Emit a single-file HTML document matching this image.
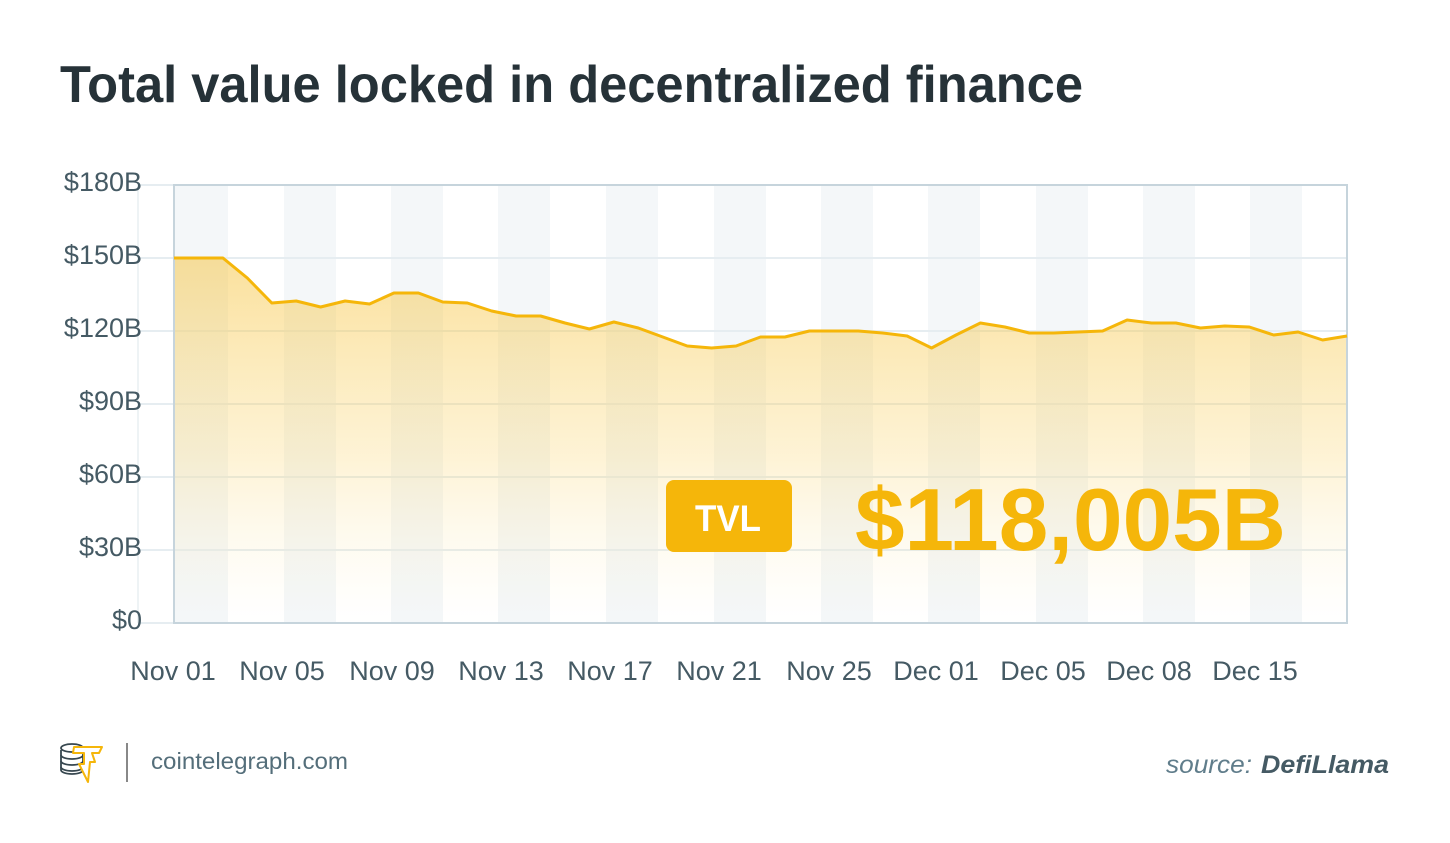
<!DOCTYPE html>
<html><head><meta charset="utf-8"><style>
html,body{margin:0;padding:0;background:#fff;}
svg{display:block;}
text{font-family:"Liberation Sans",Arial,sans-serif;}
</style></head><body>
<svg width="1450" height="843" viewBox="0 0 1450 843" xmlns="http://www.w3.org/2000/svg">
<defs>
<linearGradient id="fg" x1="0" y1="258" x2="0" y2="623" gradientUnits="userSpaceOnUse">
<stop offset="0" stop-color="#f6c23a" stop-opacity="0.5"/>
<stop offset="0.55" stop-color="#f9cf5a" stop-opacity="0.25"/>
<stop offset="1" stop-color="#fde9a8" stop-opacity="0"/>
</linearGradient>
</defs>
<rect width="1450" height="843" fill="#fff"/>
<text x="60" y="102" font-size="52" font-weight="bold" fill="#263238" textLength="1023" lengthAdjust="spacingAndGlyphs">Total value locked in decentralized finance</text>

<!-- stripes -->
<g fill="#f4f7f9">
<rect x="174" y="185" width="54" height="438"/>
<rect x="284" y="185" width="52" height="438"/>
<rect x="391" y="185" width="52" height="438"/>
<rect x="498" y="185" width="52" height="438"/>
<rect x="606" y="185" width="52" height="438"/>
<rect x="714" y="185" width="52" height="438"/>
<rect x="821" y="185" width="52" height="438"/>
<rect x="928" y="185" width="52" height="438"/>
<rect x="1036" y="185" width="52" height="438"/>
<rect x="1143" y="185" width="52" height="438"/>
<rect x="1250" y="185" width="52" height="438"/>
</g>
<!-- gridlines -->
<g stroke="#e6edf1" stroke-width="2">
<line x1="138" y1="185" x2="1347" y2="185"/>
<line x1="138" y1="258" x2="1347" y2="258"/>
<line x1="138" y1="331" x2="1347" y2="331"/>
<line x1="138" y1="404" x2="1347" y2="404"/>
<line x1="138" y1="477" x2="1347" y2="477"/>
<line x1="138" y1="550" x2="1347" y2="550"/>
<line x1="138" y1="623" x2="1347" y2="623"/>
<line x1="138" y1="185" x2="138" y2="623" stroke="#eef3f5"/>
</g>
<!-- area -->
<path fill="url(#fg)" d="M174,623 L174.0,258 L198.4,258 L222.9,258 L247.3,278 L271.8,303 L296.2,301 L320.6,307 L345.1,301 L369.5,304 L393.9,293 L418.4,293 L442.8,302 L467.3,303 L491.7,311 L516.1,316 L540.6,316 L565.0,323 L589.4,329 L613.9,322 L638.3,328 L662.8,337 L687.2,346 L711.6,348 L736.1,346 L760.5,337 L784.9,337 L809.4,331 L833.8,331 L858.3,331 L882.7,333 L907.1,336 L931.6,348 L956.0,335 L980.4,323 L1004.9,327 L1029.3,333 L1053.8,333 L1078.2,332 L1102.6,331 L1127.1,320 L1151.5,323 L1175.9,323 L1200.4,328 L1224.8,326 L1249.3,327 L1273.7,335 L1298.1,332 L1322.6,340 L1347.0,336 L1347,623 Z"/>
<!-- border -->
<rect x="174" y="185" width="1173" height="438" fill="none" stroke="#c6d4dc" stroke-width="2"/>
<!-- line -->
<polyline fill="none" stroke="#f5b60a" stroke-width="3" stroke-linejoin="round" points="174.0,258 198.4,258 222.9,258 247.3,278 271.8,303 296.2,301 320.6,307 345.1,301 369.5,304 393.9,293 418.4,293 442.8,302 467.3,303 491.7,311 516.1,316 540.6,316 565.0,323 589.4,329 613.9,322 638.3,328 662.8,337 687.2,346 711.6,348 736.1,346 760.5,337 784.9,337 809.4,331 833.8,331 858.3,331 882.7,333 907.1,336 931.6,348 956.0,335 980.4,323 1004.9,327 1029.3,333 1053.8,333 1078.2,332 1102.6,331 1127.1,320 1151.5,323 1175.9,323 1200.4,328 1224.8,326 1249.3,327 1273.7,335 1298.1,332 1322.6,340 1347.0,336"/>

<!-- y labels -->
<g font-size="27" fill="#455a64" text-anchor="end">
<text x="142" y="191">$180B</text>
<text x="142" y="264">$150B</text>
<text x="142" y="337">$120B</text>
<text x="142" y="410">$90B</text>
<text x="142" y="483">$60B</text>
<text x="142" y="556">$30B</text>
<text x="142" y="629">$0</text>
</g>
<!-- x labels -->
<g font-size="27" fill="#455a64" text-anchor="middle">
<text x="173" y="680">Nov 01</text>
<text x="282" y="680">Nov 05</text>
<text x="392" y="680">Nov 09</text>
<text x="501" y="680">Nov 13</text>
<text x="610" y="680">Nov 17</text>
<text x="719" y="680">Nov 21</text>
<text x="829" y="680">Nov 25</text>
<text x="936" y="680">Dec 01</text>
<text x="1043" y="680">Dec 05</text>
<text x="1149" y="680">Dec 08</text>
<text x="1255" y="680">Dec 15</text>
</g>

<!-- badge -->
<rect x="666" y="480" width="126" height="72" rx="8" fill="#f5b60a"/>
<text x="695" y="531" font-size="37" font-weight="bold" fill="#fff" textLength="66" lengthAdjust="spacingAndGlyphs">TVL</text>
<text x="855" y="550" font-size="88" font-weight="bold" fill="#f5b60a" textLength="431" lengthAdjust="spacingAndGlyphs">$118,005B</text>

<!-- footer logo -->
<g fill="none" stroke="#37474f" stroke-width="1.8">
<path d="M61,750 v20 a11,4 0 0 0 22,0 v-20"/>
<ellipse cx="72" cy="748" rx="11" ry="4" fill="#fff"/>
<path d="M61,755 a11,4 0 0 0 22,0"/>
<path d="M61,761 a11,4 0 0 0 22,0"/>
<path d="M61,767 a11,4 0 0 0 22,0"/>
</g>
<path d="M74,747 L102,747 L99,753 L92,753 L95,762 L90,762 L88,782 L79,764 L84,764 L84,753 L73,753 Z" fill="#fff" stroke="#f5b60a" stroke-width="2" stroke-linejoin="round"/>
<line x1="127" y1="743" x2="127" y2="782" stroke="#888" stroke-width="2"/>
<text x="151" y="769" font-size="23" fill="#546e7a" textLength="197" lengthAdjust="spacingAndGlyphs">cointelegraph.com</text>

<text x="1166" y="773" font-size="25" font-style="italic" fill="#607d8b" textLength="86" lengthAdjust="spacingAndGlyphs">source:</text>
<text x="1261" y="773" font-size="25" font-style="italic" font-weight="bold" fill="#455a64" textLength="128" lengthAdjust="spacingAndGlyphs">DefiLlama</text>
</svg>
</body></html>
